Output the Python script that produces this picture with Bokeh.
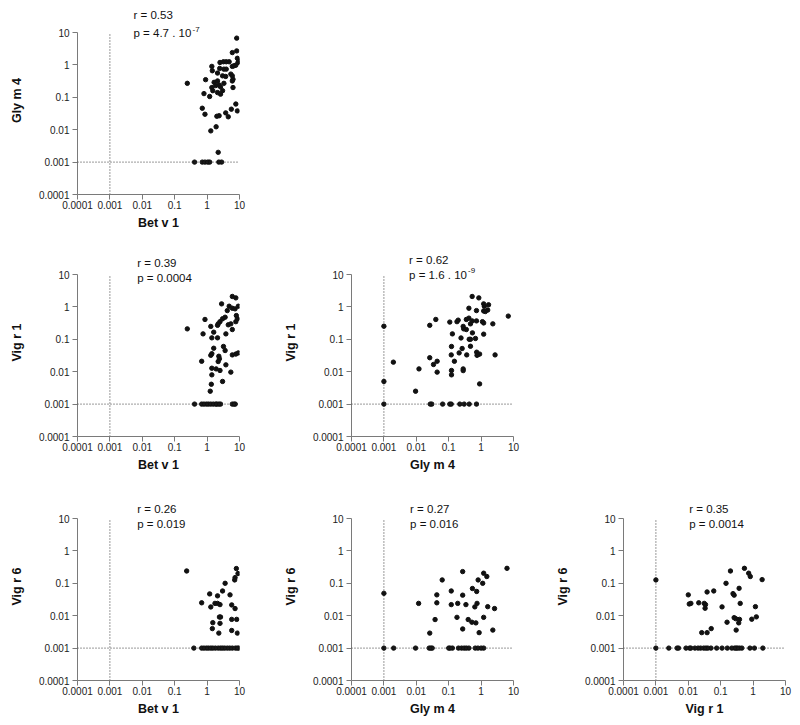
from bokeh.plotting import figure
from bokeh.layouts import column, row
from bokeh.models import Range1d, FixedTicker, CustomJSTickFormatter, Span, Label
from bokeh.embed import file_html
from bokeh.resources import INLINE

# ---------------- data ----------------
TICKS = [0.0001, 0.001, 0.01, 0.1, 1, 10]
CUTOFF = 0.001

# Panel 1: Bet v 1 (x) vs Gly m 4 (y)
p1_x = [8.2, 8.2, 6.0, 8.6, 9.5, 9.0, 7.7, 2.5, 3.2, 3.9, 4.8, 1.4, 2.45, 3.3, 3.9, 6.0, 6.8,
        1.45, 2.1, 3.0, 3.75, 5.4, 6.0, 6.3, 0.9, 1.65, 2.1, 2.35, 3.3, 6.0, 6.3, 0.245, 1.4,
        1.85, 2.6, 1.5, 2.1, 2.6, 1.2, 0.8, 3.0, 0.71, 0.86, 2.35, 2.0, 3.75, 4.5, 5.6, 7.7,
        8.6, 1.3, 1.9, 2.2, 0.41, 0.71, 0.86, 1.05, 1.2, 2.3, 2.8]
p1_y = [6.7, 2.7, 2.4, 1.6, 1.3, 1.19, 0.98, 1.19, 1.25, 1.25, 1.25, 0.9, 0.78, 0.74, 0.74, 0.9, 0.94,
        0.66, 0.56, 0.46, 0.44, 0.52, 0.46, 0.36, 0.35, 0.29, 0.32, 0.24, 0.27, 0.32, 0.2, 0.27, 0.2,
        0.23, 0.21, 0.16, 0.14, 0.125, 0.106, 0.13, 0.16, 0.046, 0.03, 0.027, 0.026, 0.033, 0.025, 0.043, 0.062,
        0.038, 0.0092, 0.0123, 0.002, 0.001, 0.001, 0.001, 0.001, 0.001, 0.001, 0.001]

# Panel 2: Bet v 1 (x) vs Vig r 1 (y)
p2_x = [6.0, 7.7, 2.8, 4.8, 6.0, 7.3, 9.2, 4.2, 8.0, 8.6, 7.7, 3.6, 3.0, 2.5, 2.2, 2.1, 0.86, 1.3,
        4.5, 5.4, 6.0, 1.6, 0.75, 3.8, 1.4, 2.1, 0.245, 1.6, 3.2, 3.6, 1.4, 1.3, 2.3, 2.4, 6.0, 7.7,
        9.2, 0.68, 2.2, 3.8, 1.4, 1.9, 2.5, 5.4, 1.4, 3.0, 1.35, 1.25,
        0.41, 0.68, 0.8, 0.95, 1.1, 1.3, 1.55, 1.85, 2.0, 2.3, 2.6, 6.0, 6.8, 7.4]
p2_y = [2.1, 1.9, 1.24, 1.05, 0.91, 0.87, 1.05, 0.77, 0.54, 0.43, 0.35, 0.48, 0.43, 0.35, 0.30, 0.27, 0.41, 0.25,
        0.28, 0.30, 0.20, 0.166, 0.147, 0.147, 0.111, 0.111, 0.21, 0.053, 0.060, 0.045, 0.036, 0.032, 0.030, 0.025, 0.033, 0.035,
        0.038, 0.021, 0.0206, 0.0163, 0.0128, 0.0122, 0.0109, 0.0097, 0.0080, 0.0050, 0.0041, 0.0025,
        0.001, 0.001, 0.001, 0.001, 0.001, 0.001, 0.001, 0.001, 0.001, 0.001, 0.001, 0.001, 0.001, 0.001]

# Panel 3: Gly m 4 (x) vs Vig r 1 (y)
p3_x = [0.53, 0.85, 1.2, 1.26, 1.7, 0.42, 0.72, 1.2, 1.35, 1.6, 6.9, 0.040, 0.108, 0.18, 0.196, 0.35,
        0.42, 0.53, 0.72, 1.1, 1.2, 2.3, 0.026, 0.28, 0.29, 0.35, 0.47, 0.13, 0.54, 1.2, 0.24, 0.43,
        0.47, 0.67, 0.122, 0.26, 0.47, 0.73, 0.8, 0.9, 0.21, 0.12, 0.36, 0.75, 2.7, 0.026, 0.044,
        0.034, 0.15, 0.00196, 0.0121, 0.044, 0.122, 0.122, 0.28, 0.28, 0.90, 0.0095, 0.001, 0.001, 0.001,
        0.027, 0.030, 0.065, 0.108, 0.12, 0.22, 0.30, 0.43, 0.72]
p3_y = [2.1, 1.9, 1.24, 1.05, 1.16, 0.91, 0.77, 0.75, 0.72, 0.8, 0.52, 0.41, 0.34, 0.35, 0.39, 0.41,
        0.45, 0.37, 0.37, 0.35, 0.32, 0.30, 0.27, 0.25, 0.21, 0.20, 0.30, 0.147, 0.158, 0.144, 0.11, 0.10,
        0.10, 0.106, 0.060, 0.052, 0.061, 0.040, 0.034, 0.035, 0.038, 0.033, 0.033, 0.032, 0.033, 0.027, 0.021,
        0.0167, 0.021, 0.0197, 0.0122, 0.0097, 0.0109, 0.0080, 0.0122, 0.0108, 0.0042, 0.0025, 0.254, 0.005, 0.001,
        0.001, 0.001, 0.001, 0.001, 0.001, 0.001, 0.001, 0.001, 0.001]

# Panel 4: Bet v 1 (x) vs Vig r 6 (y)
p4_x = [0.234, 8.0, 9.0, 7.3, 7.1, 3.6, 3.0, 1.2, 2.1, 5.1, 0.68, 1.75, 2.1, 2.5, 1.3, 5.75, 7.3,
        2.6, 2.4, 1.5, 2.5, 5.75, 8.2, 1.45, 2.3, 5.75, 8.6,
        0.39, 0.68, 0.8, 0.95, 1.1, 1.3, 1.5, 1.8, 2.2, 2.6, 3.0, 3.5, 4.2, 5.0, 6.0, 7.5, 8.6, 9.6]
p4_y = [0.24, 0.285, 0.20, 0.150, 0.127, 0.100, 0.058, 0.047, 0.041, 0.044, 0.025, 0.024, 0.024, 0.022, 0.0186, 0.0215, 0.0166,
        0.0091, 0.0091, 0.0061, 0.0058, 0.0077, 0.0077, 0.0040, 0.0029, 0.0035, 0.0029,
        0.001, 0.001, 0.001, 0.001, 0.001, 0.001, 0.001, 0.001, 0.001, 0.001, 0.001, 0.001, 0.001, 0.001, 0.001, 0.001, 0.001, 0.001]

# Panel 5: Gly m 4 (x) vs Vig r 6 (y)
p5_x = [6.3, 0.27, 1.2, 1.5, 0.063, 0.81, 1.12, 0.54, 0.12, 0.73, 0.043, 0.27, 0.001, 0.0118, 0.043,
        0.12, 0.19, 0.34, 0.75, 0.64, 1.6, 2.6, 0.038, 0.18, 1.2, 0.40, 0.52, 0.69, 0.27, 0.87, 2.3, 0.026,
        0.001, 0.002, 0.0095, 0.025, 0.028, 0.031, 0.10, 0.11, 0.13, 0.2, 0.25, 0.3, 0.35, 0.42, 0.66, 0.8, 1.0, 1.2]
p5_y = [0.29, 0.23, 0.205, 0.162, 0.127, 0.127, 0.100, 0.069, 0.058, 0.056, 0.044, 0.043, 0.049, 0.024, 0.025,
        0.022, 0.024, 0.022, 0.024, 0.0187, 0.019, 0.0166, 0.0076, 0.0089, 0.0089, 0.0076, 0.0063, 0.0060, 0.0039, 0.0030, 0.0036, 0.0029,
        0.001, 0.001, 0.001, 0.001, 0.001, 0.001, 0.001, 0.001, 0.001, 0.001, 0.001, 0.001, 0.001, 0.001, 0.001, 0.001, 0.001, 0.001]

# Panel 6: Vig r 1 (x) vs Vig r 6 (y)
p6_x = [0.001, 0.54, 0.20, 0.73, 0.82, 1.9, 0.146, 0.37, 0.061, 0.038, 0.010, 0.24, 0.26, 0.0107, 0.012,
        0.021, 0.031, 0.034, 0.033, 0.11, 0.40, 1.18, 0.26, 0.29, 0.36, 0.38, 0.91, 1.26, 0.157, 0.30, 0.051,
        0.026, 0.038,
        0.001, 0.0025, 0.0045, 0.005, 0.0085, 0.011, 0.012, 0.016, 0.02, 0.024, 0.03, 0.035, 0.04, 0.05,
        0.075, 0.11, 0.16, 0.22, 0.27, 0.3, 0.33, 0.38, 0.45, 0.8, 1.1, 2.0]
p6_y = [0.127, 0.29, 0.24, 0.205, 0.162, 0.13, 0.100, 0.070, 0.058, 0.054, 0.044, 0.048, 0.043, 0.023, 0.024,
        0.025, 0.024, 0.022, 0.017, 0.0187, 0.024, 0.019, 0.0087, 0.0081, 0.0060, 0.0077, 0.0078, 0.0092, 0.0063, 0.0036, 0.0040,
        0.0030, 0.0030,
        0.001, 0.001, 0.001, 0.001, 0.001, 0.001, 0.001, 0.001, 0.001, 0.001, 0.001, 0.001, 0.001, 0.001,
        0.001, 0.001, 0.001, 0.001, 0.001, 0.001, 0.001, 0.001, 0.001, 0.001, 0.001, 0.001]

stats_r = ["r = 0.53", "r = 0.39", "r = 0.62", "r = 0.26", "r = 0.27", "r = 0.35"]
stats_p = ["p = 4.7 . 10", "p = 0.0004", "p = 1.6 . 10", "p = 0.019", "p = 0.016", "p = 0.0014"]
stats_exp = ["-7", "", "-9", "", "", ""]

FONT = "Liberation Sans"
FRAME_W = 162
FRAME_H = 188           # 162 px for the 5 axis decades + 26 px head room for the r/p text
DEC = FRAME_W / 5.0     # px per decade
EXT = FRAME_H / DEC - 5  # extra decades above the axis top


def panel(x, y, xlabel, ylabel, k, bl, br, bt, bb, tdx, rdy, pdy):
    assert len(x) == len(y)
    lo, hi = TICKS[0], TICKS[-1]
    p = figure(width=bl + FRAME_W + br, height=bt + FRAME_H + bb,
               x_axis_type="log", y_axis_type="log",
               x_range=Range1d(lo, hi), y_range=Range1d(lo, hi * 10 ** EXT),
               output_backend="svg", toolbar_location=None,
               min_border_left=bl, min_border_right=br, min_border_top=bt, min_border_bottom=bb)
    p.outline_line_color = None
    p.grid.visible = False
    p.background_fill_color = "white"
    p.border_fill_color = "white"
    p.yaxis.bounds = (lo, hi)
    for ax in (p.xaxis[0], p.yaxis[0]):
        ax.ticker = FixedTicker(ticks=TICKS)
        ax.formatter = CustomJSTickFormatter(code="return String(tick);")
        ax.axis_line_color = "#7a7a7a"
        ax.major_tick_line_color = "#7a7a7a"
        ax.major_tick_out = 5
        ax.major_tick_in = 0
        ax.minor_tick_line_color = None
        ax.major_label_text_font = FONT
        ax.major_label_text_font_size = "10px"
        ax.major_label_text_color = "#222222"
        ax.axis_label_text_font = FONT
        ax.axis_label_text_font_style = "bold"
        ax.axis_label_text_font_size = "12.5px"
        ax.axis_label_text_color = "#111111"
    p.xaxis.major_label_standoff = 1
    p.yaxis.major_label_standoff = 3
    p.xaxis.axis_label = xlabel
    p.yaxis.axis_label = ylabel
    p.xaxis.axis_label_standoff = 4
    p.yaxis.axis_label_standoff = 12

    # dotted cut-off lines at the detection limit
    p.segment(x0=[CUTOFF], y0=[lo], x1=[CUTOFF], y1=[hi], line_color="#333333",
              line_width=1, line_dash="1 2")
    p.add_layout(Span(location=CUTOFF, dimension="width", line_color="#333333",
                      line_width=1, line_dash="1 2"))
    p.scatter(x, y, size=4.4, color="#111111")

    lx = 10 ** (-4 + tdx / DEC)
    p.add_layout(Label(x=lx, y=10 ** (1 - rdy / DEC), text=stats_r[k], text_font=FONT,
                       text_font_size="11.5px", text_baseline="middle", text_align="left",
                       text_color="#111111"))
    p.add_layout(Label(x=lx, y=10 ** (1 - pdy / DEC), text=stats_p[k], text_font=FONT,
                       text_font_size="11.5px", text_baseline="middle", text_align="left",
                       text_color="#111111"))
    if stats_exp[k]:
        p.add_layout(Label(x=lx, y=10 ** (1 - pdy / DEC), x_offset=59, y_offset=4,
                           text=stats_exp[k], text_font=FONT, text_font_size="8px",
                           text_baseline="middle", text_align="left", text_color="#111111"))
    return p


# columns: frame left at 77 / 351 / 623 ; rows: axis top at 32 / 274 / 518
f1 = panel(p1_x, p1_y, "Bet v 1", "Gly m 4", 0, 77, 39, 6, 50, 56, -17.7, 0.6)
f2 = panel(p2_x, p2_y, "Bet v 1", "Vig r 1", 1, 77, 39, 4, 52, 59.7, -11.3, 3.3)
f3 = panel(p3_x, p3_y, "Gly m 4", "Vig r 1", 2, 73, 37, 4, 52, 57.6, -15, 0)
f4 = panel(p4_x, p4_y, "Bet v 1", "Vig r 6", 3, 77, 39, 4, 40, 59.7, -9.4, 5.6)
f5 = panel(p5_x, p5_y, "Gly m 4", "Vig r 6", 4, 73, 37, 4, 40, 58.6, -9.4, 5.6)
f6 = panel(p6_x, p6_y, "Vig r 1", "Vig r 6", 5, 73, 12, 4, 40, 65.7, -9.4, 5.6)

layout = column(row(f1), row(f2, f3), row(f4, f5, f6), spacing=0)

with open("out.html", "w") as fh:
    fh.write(file_html(layout, INLINE))
